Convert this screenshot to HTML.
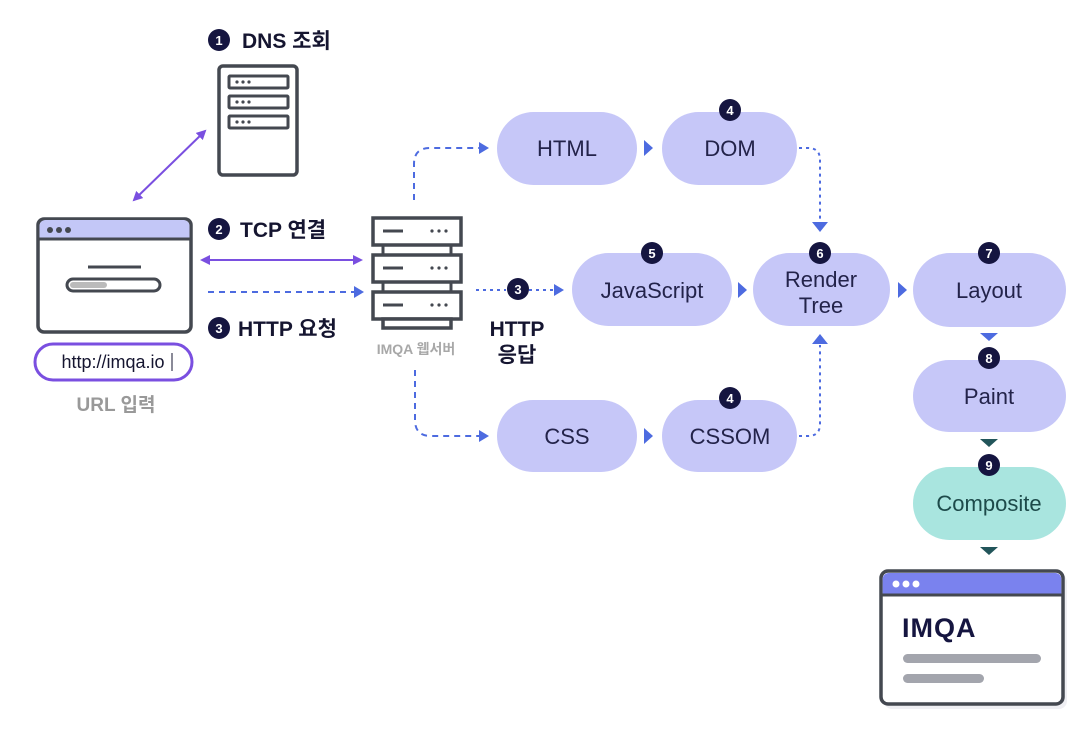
<!DOCTYPE html>
<html><head><meta charset="utf-8"><style>
html,body{margin:0;padding:0;background:#fff;}
svg{display:block;font-family:"Liberation Sans","Noto Sans CJK KR",sans-serif;}
.pill{fill:#c6c7f8;}
.pt{font-size:22px;fill:#23234a;text-anchor:middle;}
.bt{font-size:13px;fill:#fff;font-weight:bold;text-anchor:middle;}
.lbl{font-size:21px;font-weight:bold;fill:#151530;}
.dash{stroke:#4d6be0;stroke-width:2;fill:none;stroke-dasharray:6 5;}
.dot{stroke:#4d6be0;stroke-width:2;fill:none;stroke-dasharray:3 4;}
.srv{fill:#fff;stroke:#444850;stroke-width:3.5;}
</style></head><body>
<svg width="1091" height="737" viewBox="0 0 1091 737">
<defs>
<marker id="pa" markerWidth="10" markerHeight="10" refX="8" refY="5" orient="auto" markerUnits="userSpaceOnUse"><path d="M0,0 L10,5 L0,10 z" fill="#7a4fe0"/></marker>
<marker id="pb" markerWidth="10" markerHeight="10" refX="2" refY="5" orient="auto" markerUnits="userSpaceOnUse"><path d="M10,0 L0,5 L10,10 z" fill="#7a4fe0"/></marker>
<marker id="ba" markerWidth="10" markerHeight="12" refX="8" refY="6" orient="auto" markerUnits="userSpaceOnUse"><path d="M0,0 L10,6 L0,12 z" fill="#4d6be0"/></marker>
</defs>

<!-- DNS -->
<circle cx="219" cy="40" r="11" fill="#151540"/><text x="219" y="45" class="bt">1</text>
<text x="242" y="48" class="lbl">DNS 조회</text>
<rect x="219" y="66" width="78" height="109" rx="4" class="srv"/>
<rect x="229" y="76" width="59" height="12" rx="1" fill="#fff" stroke="#444850" stroke-width="3"/>
<rect x="229" y="96" width="59" height="12" rx="1" fill="#fff" stroke="#444850" stroke-width="3"/>
<rect x="229" y="116" width="59" height="12" rx="1" fill="#fff" stroke="#444850" stroke-width="3"/>
<g fill="#444850"><circle cx="237" cy="82" r="1.6"/><circle cx="243" cy="82" r="1.6"/><circle cx="249" cy="82" r="1.6"/>
<circle cx="237" cy="102" r="1.6"/><circle cx="243" cy="102" r="1.6"/><circle cx="249" cy="102" r="1.6"/>
<circle cx="237" cy="122" r="1.6"/><circle cx="243" cy="122" r="1.6"/><circle cx="249" cy="122" r="1.6"/></g>
<line x1="134" y1="200" x2="205" y2="131" stroke="#7a4fe0" stroke-width="2" marker-end="url(#pa)" marker-start="url(#pb)"/>

<!-- left browser -->
<rect x="38" y="219" width="153" height="113" rx="6" fill="#fff" stroke="#444850" stroke-width="3.5"/>
<path d="M39.5,238 V226 a6,6 0 0 1 6,-6 H183.5 a6,6 0 0 1 6,6 V238 z" fill="#c3c7f7"/>
<line x1="38" y1="239" x2="191" y2="239" stroke="#444850" stroke-width="3"/>
<g fill="#444850"><circle cx="50" cy="230" r="3"/><circle cx="59" cy="230" r="3"/><circle cx="68" cy="230" r="3"/></g>
<line x1="88" y1="267" x2="141" y2="267" stroke="#444850" stroke-width="3"/>
<rect x="67" y="279" width="93" height="12" rx="6" fill="#fff" stroke="#444850" stroke-width="3"/>
<rect x="70" y="282" width="37" height="6" rx="3" fill="#bbb"/>
<rect x="35" y="344" width="157" height="36" rx="18" fill="#fff" stroke="#7a4fe0" stroke-width="3"/>
<text x="113" y="368" font-size="18" fill="#151530" text-anchor="middle">http://imqa.io</text>
<line x1="172" y1="353" x2="172" y2="371" stroke="#151530" stroke-width="1"/>
<text x="116" y="411" font-size="19" font-weight="bold" fill="#999" text-anchor="middle">URL 입력</text>

<!-- TCP / HTTP -->
<circle cx="219" cy="229" r="11" fill="#151540"/><text x="219" y="234" class="bt">2</text>
<text x="240" y="237" class="lbl">TCP 연결</text>
<line x1="202" y1="260" x2="361" y2="260" stroke="#7a4fe0" stroke-width="2" marker-end="url(#pa)" marker-start="url(#pb)"/>
<line x1="208" y1="292" x2="362" y2="292" class="dash" marker-end="url(#ba)"/>
<circle cx="219" cy="328" r="11" fill="#151540"/><text x="219" y="333" class="bt">3</text>
<text x="238" y="336" class="lbl">HTTP 요청</text>

<!-- web server -->
<g>
<rect x="373" y="218" width="88" height="27" class="srv"/>
<rect x="373" y="255" width="88" height="27" class="srv"/>
<rect x="373" y="292" width="88" height="27" class="srv"/>
<rect x="383" y="319" width="68" height="9" class="srv"/>
<g stroke="#444850" stroke-width="3"><line x1="383" y1="231" x2="403" y2="231"/><line x1="383" y1="268" x2="403" y2="268"/><line x1="383" y1="305" x2="403" y2="305"/>
<line x1="383" y1="245" x2="383" y2="255"/><line x1="451" y1="245" x2="451" y2="255"/><line x1="383" y1="282" x2="383" y2="292"/><line x1="451" y1="282" x2="451" y2="292"/></g>
<g fill="#444850"><circle cx="432" cy="231" r="1.6"/><circle cx="439" cy="231" r="1.6"/><circle cx="446" cy="231" r="1.6"/>
<circle cx="432" cy="268" r="1.6"/><circle cx="439" cy="268" r="1.6"/><circle cx="446" cy="268" r="1.6"/>
<circle cx="432" cy="305" r="1.6"/><circle cx="439" cy="305" r="1.6"/><circle cx="446" cy="305" r="1.6"/></g>
</g>
<text x="416" y="354" font-size="14" font-weight="bold" fill="#a8a8a8" text-anchor="middle">IMQA 웹서버</text>

<!-- dashed branches -->
<path d="M414,200 V164 Q414,148 430,148 H487" class="dash" marker-end="url(#ba)"/>
<path d="M415,370 V420 Q415,436 431,436 H487" class="dash" marker-end="url(#ba)"/>
<line x1="476" y1="290" x2="506" y2="290" class="dot"/>
<line x1="529" y1="290" x2="562" y2="290" class="dot" marker-end="url(#ba)"/>
<circle cx="518" cy="289" r="11" fill="#151540"/><text x="518" y="294" class="bt">3</text>
<text x="517" y="336" class="lbl" text-anchor="middle">HTTP</text>
<text x="517" y="362" class="lbl" text-anchor="middle">응답</text>

<!-- pills -->
<rect x="497" y="112" width="140" height="73" rx="36.5" class="pill"/><text x="567" y="156" class="pt">HTML</text>
<rect x="662" y="112" width="135" height="73" rx="36.5" class="pill"/><text x="730" y="156" class="pt">DOM</text>
<rect x="572" y="253" width="160" height="73" rx="36.5" class="pill"/><text x="652" y="298" class="pt">JavaScript</text>
<rect x="753" y="253" width="137" height="73" rx="36.5" class="pill"/><text x="821" y="287" class="pt">Render</text><text x="821" y="313" class="pt">Tree</text>
<rect x="913" y="253" width="153" height="74" rx="37" class="pill"/><text x="989" y="298" class="pt">Layout</text>
<rect x="913" y="360" width="153" height="72" rx="36" class="pill"/><text x="989" y="404" class="pt">Paint</text>
<rect x="913" y="467" width="153" height="73" rx="36.5" fill="#a9e5df"/><text x="989" y="511" class="pt" style="fill:#1d4a4a">Composite</text>
<rect x="497" y="400" width="140" height="72" rx="36" class="pill"/><text x="567" y="444" class="pt">CSS</text>
<rect x="662" y="400" width="135" height="72" rx="36" class="pill"/><text x="730" y="444" class="pt">CSSOM</text>

<!-- triangles -->
<g fill="#4d6be0">
<path d="M644,140 L653,148 L644,156 z"/><path d="M644,428 L653,436 L644,444 z"/>
<path d="M738,282 L747,290 L738,298 z"/><path d="M898,282 L907,290 L898,298 z"/>
<path d="M980,333 L998,333 L989,341 z"/>
</g>
<g fill="#22555a">
<path d="M980,439 L998,439 L989,447 z"/><path d="M980,547 L998,547 L989,555 z"/>
</g>
<!-- DOM/CSSOM to render tree -->
<path d="M799,148 H808 Q820,148 820,160 V220" class="dot"/>
<path d="M812,222 L828,222 L820,232 z" fill="#4d6be0"/>
<path d="M799,436 H808 Q820,436 820,424 V345" class="dot"/>
<path d="M812,344 L828,344 L820,334 z" fill="#4d6be0"/>

<!-- badges -->
<g>
<circle cx="730" cy="110" r="11" fill="#151540"/><text x="730" y="115" class="bt">4</text>
<circle cx="652" cy="253" r="11" fill="#151540"/><text x="652" y="258" class="bt">5</text>
<circle cx="820" cy="253" r="11" fill="#151540"/><text x="820" y="258" class="bt">6</text>
<circle cx="989" cy="253" r="11" fill="#151540"/><text x="989" y="258" class="bt">7</text>
<circle cx="989" cy="358" r="11" fill="#151540"/><text x="989" y="363" class="bt">8</text>
<circle cx="989" cy="465" r="11" fill="#151540"/><text x="989" y="470" class="bt">9</text>
<circle cx="730" cy="398" r="11" fill="#151540"/><text x="730" y="403" class="bt">4</text>
</g>

<!-- final browser -->
<rect x="884" y="574" width="183" height="135" rx="8" fill="#e8e8ee" opacity="0.7"/>
<rect x="881" y="571" width="182" height="133" rx="7" fill="#fff" stroke="#444850" stroke-width="3.5"/>
<path d="M882.7,594 V579 a6,6 0 0 1 6,-6 H1055.3 a6,6 0 0 1 6,6 V594 z" fill="#7a82ee"/>
<line x1="881" y1="595" x2="1063" y2="595" stroke="#444850" stroke-width="3"/>
<g fill="#fff"><circle cx="896" cy="584" r="3.5"/><circle cx="906" cy="584" r="3.5"/><circle cx="916" cy="584" r="3.5"/></g>
<text x="902" y="637" font-size="27" font-weight="bold" fill="#151540" letter-spacing="1">IMQA</text>
<rect x="903" y="654" width="138" height="9" rx="4.5" fill="#a3a5ad"/>
<rect x="903" y="674" width="81" height="9" rx="4.5" fill="#a3a5ad"/>
</svg>
</body></html>
